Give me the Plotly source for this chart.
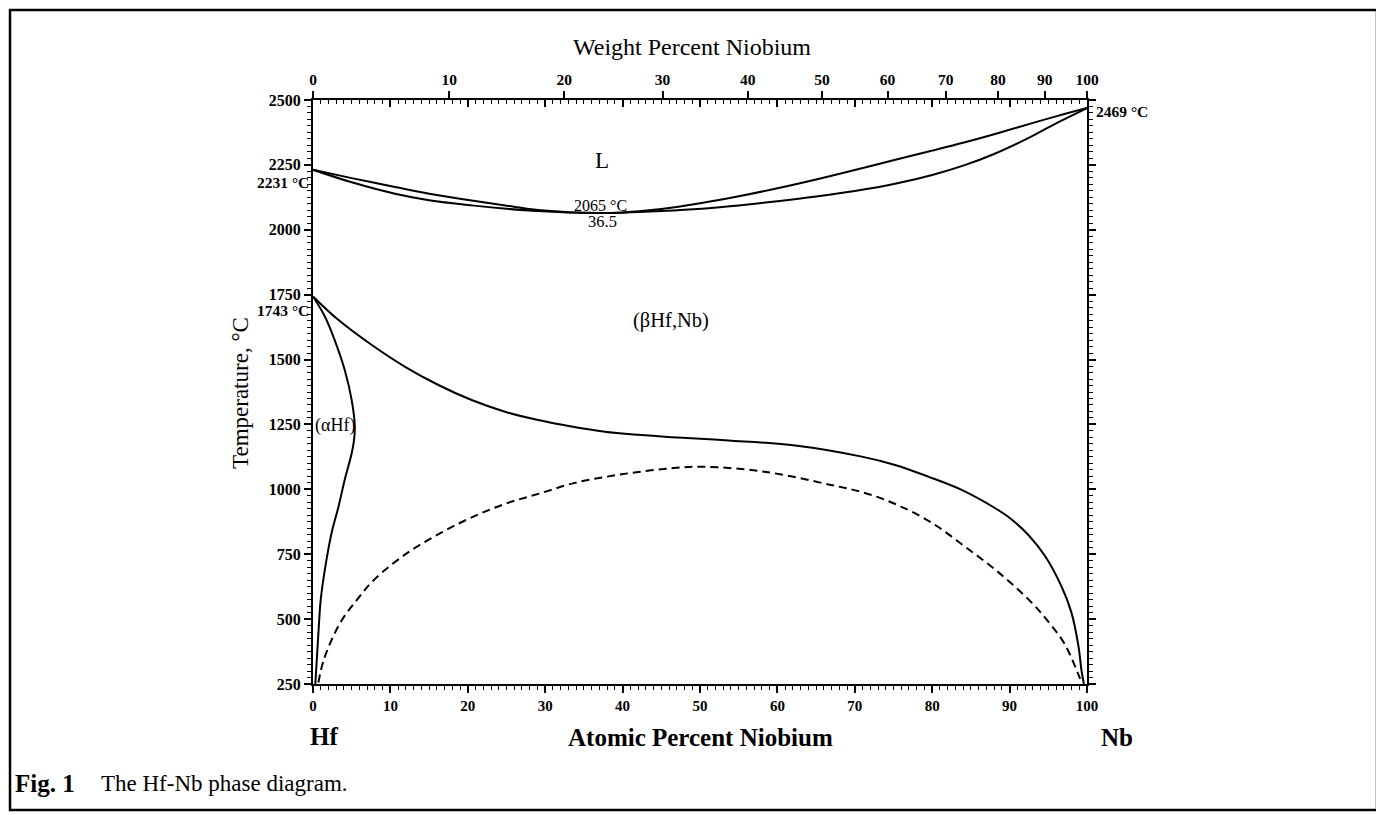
import plotly.graph_objects as go

# ---------------- data ----------------
M_NB = 92.906
M_HF = 178.49

# liquidus / solidus (at.% Nb, °C)
liq_x = [0, 5, 10.6, 15, 20.5, 25, 29.1, 33, 36.5, 40, 45, 50.2, 55, 60, 65, 70, 75.5, 80, 84.1, 88, 92.6, 96, 100]
liq_T = [2231, 2199, 2165, 2139, 2113, 2093, 2076, 2068, 2065, 2067, 2080, 2103, 2129, 2160, 2194, 2230, 2272, 2305, 2336, 2368, 2408, 2437, 2469]
sol_x = [0, 5, 10.6, 15, 20.5, 25, 29.1, 33, 36.5, 40, 45, 50.2, 55, 60, 65, 70, 75.5, 80, 84.1, 88, 92.6, 96, 100]
sol_T = [2231, 2183, 2139, 2114, 2094, 2081, 2072, 2067, 2065, 2066, 2072, 2081, 2094, 2110, 2128, 2149, 2179, 2211, 2248, 2292, 2356, 2410, 2469]

# beta transus
beta_x = [0, 3.3, 7.6, 11.9, 16.2, 20.5, 24.8, 29.1, 33.4, 37.7, 42.0, 46.3, 50.6, 53.7, 62.3, 70.9, 75.2, 79.5, 83.8, 88.1, 90.3, 92.4, 94.6, 96.7, 98.0, 98.9, 99.3, 99.6]
beta_T = [1743, 1652, 1556, 1472, 1402, 1344, 1299, 1267, 1242, 1222, 1210, 1201, 1194, 1188, 1169, 1126, 1094, 1049, 998, 928, 883, 825, 742, 626, 524, 395, 300, 250]

# alpha-Hf solvus
alpha_x = [0, 1.55, 2.8, 4.1, 5.0, 5.4, 5.3, 5.0, 4.1, 3.3, 2.4, 1.6, 1.0, 0.7, 0.3]
alpha_T = [1743, 1665, 1575, 1460, 1344, 1242, 1190, 1139, 1037, 934, 832, 703, 575, 447, 250]

# miscibility gap (dashed)
gap_x = [0.7, 1.4, 3.5, 5.7, 7.9, 12.2, 16.5, 20.8, 25.1, 29.4, 33.7, 38.0, 42.3, 46.6, 50.5, 58.3, 66.9, 71.2, 75.5, 79.9, 84.2, 88.5, 92.8, 95.0, 97.1, 98.8, 99.3]
gap_T = [255, 344, 485, 575, 652, 755, 832, 896, 947, 985, 1024, 1049, 1068, 1082, 1087, 1068, 1017, 987, 940, 872, 780, 682, 565, 490, 405, 293, 255]

at_ticks = [0, 10, 20, 30, 40, 50, 60, 70, 80, 90, 100]
wt_ticks = [0, 10, 20, 30, 40, 50, 60, 70, 80, 90, 100]
T_ticks = [250, 500, 750, 1000, 1250, 1500, 1750, 2000, 2250, 2500]


def wt_to_at(w):
    if w <= 0:
        return 0.0
    if w >= 100:
        return 100.0
    a = w / M_NB
    b = (100 - w) / M_HF
    return 100 * a / (a + b)


wt_pos = [wt_to_at(w) for w in wt_ticks]

# ---------------- layout geometry (page pixels) ----------------
PAGE_W, PAGE_H = 1384, 815
OFF = 8                      # default body margin of the page
W, H = PAGE_W - OFF, PAGE_H - OFF
L, R, T, B = 313, 1087, 100, 684   # plot area in page pixels


def px(x):
    return (x - L) / (R - L)


def py(y):
    return (B - y) / (B - T)


FONT = "Liberation Serif"
line = dict(color="black", width=2)

fig = go.Figure()
fig.add_trace(go.Scatter(x=liq_x, y=liq_T, mode="lines", line=line, line_shape="spline", hoverinfo="skip"))
fig.add_trace(go.Scatter(x=sol_x, y=sol_T, mode="lines", line=line, line_shape="spline", hoverinfo="skip"))
fig.add_trace(go.Scatter(x=beta_x, y=beta_T, mode="lines", line=line, line_shape="spline", hoverinfo="skip"))
fig.add_trace(go.Scatter(x=alpha_x, y=alpha_T, mode="lines", line=line, line_shape="spline", hoverinfo="skip"))
fig.add_trace(go.Scatter(x=gap_x, y=gap_T, mode="lines", line=dict(color="black", width=2, dash="8px,5px"),
                         line_shape="spline", hoverinfo="skip"))
# invisible traces so that the top axes are drawn
fig.add_trace(go.Scatter(x=liq_x, y=liq_T, xaxis="x2", mode="lines", opacity=0, hoverinfo="skip"))
fig.add_trace(go.Scatter(x=liq_x, y=liq_T, xaxis="x3", mode="lines", opacity=0, hoverinfo="skip"))


def tf(size):
    return dict(family=FONT, size=size, color="black", weight="bold")


fig.update_layout(
    width=W, height=H, autosize=False,
    margin=dict(l=L - OFF, r=W - (R - OFF), t=T - OFF, b=H - (B - OFF), pad=0),
    paper_bgcolor="white", plot_bgcolor="white",
    showlegend=False,
    xaxis=dict(range=[0, 100], tickvals=at_ticks, ticks="outside", ticklen=7, tickwidth=1.5,
               tickcolor="black", showline=True, linecolor="black", linewidth=2,
               showgrid=False, zeroline=False, tickfont=tf(15), mirror=False,
               minor=dict(dtick=1, ticks="outside", ticklen=4, tickwidth=1, tickcolor="black")),
    xaxis2=dict(range=[0, 100], overlaying="x", side="top", tickvals=wt_pos,
                ticktext=[str(w) for w in wt_ticks], ticks="outside", ticklen=7, tickwidth=1.5,
                tickcolor="black", showline=True, linecolor="black", linewidth=2,
                showgrid=False, zeroline=False, tickfont=tf(15.5)),
    xaxis3=dict(range=[0, 100], overlaying="x", side="top", tickvals=at_ticks, ticks="inside",
                ticklen=7, tickwidth=1.5, tickcolor="black", showticklabels=False,
                showline=False, showgrid=False, zeroline=False,
                minor=dict(dtick=1, ticks="inside", ticklen=4, tickwidth=1, tickcolor="black")),
    yaxis=dict(range=[250, 2500], tickvals=T_ticks, ticks="outside", ticklen=7, tickwidth=1.5,
               tickcolor="black", showline=True, linecolor="black", linewidth=2, mirror="ticks",
               showgrid=False, zeroline=False, tickfont=tf(16),
               minor=dict(dtick=25, ticks="outside", ticklen=4, tickwidth=1, tickcolor="black")),
)

ann = []


def A(text, x, y, size, xref="paper", yref="paper", xanchor="center", yanchor="middle",
      bold=False, angle=0):
    ann.append(dict(text=text, x=x, y=y, xref=xref, yref=yref, xanchor=xanchor, yanchor=yanchor,
                    showarrow=False, textangle=angle,
                    font=dict(family=FONT, size=size, color="black", weight="bold" if bold else "normal")))


A("Weight Percent Niobium", px(692), py(47), 24)
A("Temperature, °C", px(240), py(393), 23, angle=-90)
A("2231 °C", px(311), py(182), 15.5, xanchor="right", bold=True)
A("1743 °C", px(311), py(310), 15.5, xanchor="right", bold=True)
A("2469 °C", px(1094), py(111), 15.5, xanchor="left", bold=True)
A("L", 37.4, 2267, 23, xref="x", yref="y")
A("2065 °C", 37.2, 2093, 16, xref="x", yref="y")
A("36.5", 37.4, 2030, 16.5, xref="x", yref="y")
A("(βHf,Nb)", 46.2, 1652, 20.5, xref="x", yref="y")
A("(αHf)", 0, 1245, 18, xref="x", yref="y", xanchor="left")
A("Hf", px(324), py(736), 25, bold=True)
A("Atomic Percent Niobium", px(700), py(737), 25, bold=True)
A("Nb", px(1117), py(737), 25, bold=True)
A("Fig. 1", px(13), py(783), 25, xanchor="left", bold=True)
A("The Hf-Nb phase diagram.", px(99), py(783), 23, xanchor="left")
fig.update_layout(annotations=ann)

fig.add_shape(type="rect", xref="paper", yref="paper", x0=px(10), x1=px(1377), y0=py(10), y1=py(810),
              line=dict(color="black", width=2.5), fillcolor="rgba(0,0,0,0)", layer="above")

fig.write_html("out.html")
